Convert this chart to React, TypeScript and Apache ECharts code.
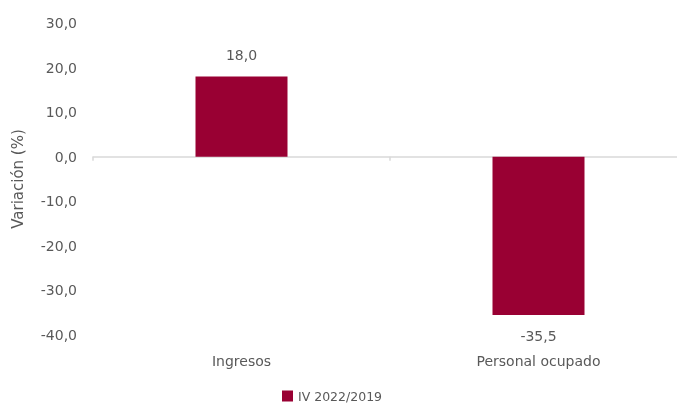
import React, { useEffect, useRef } from "react";
import * as echarts from "echarts";

const categories = ["Ingresos", "Personal ocupado"];
const seriesName = "IV 2022/2019";
const values = [18.0, -35.5];
const yTicks = { min: -40, max: 30, interval: 10 };

const fmt = (v: number) => v.toFixed(1).replace(".", ",");
const FONT = "'DejaVu Sans', sans-serif";
const TXT = "#595959";

export default function App() {
  const ref = useRef<HTMLDivElement>(null);
  useEffect(() => {
    const chart = echarts.init(ref.current!, null, { renderer: "svg" });
    chart.setOption({
      animation: false,
      textStyle: { fontFamily: FONT },
      grid: { left: 93, width: 594, top: 23, height: 312, outerBoundsMode: "none", containLabel: false },
      legend: {
        left: 277,
        top: 384,
        itemWidth: 11,
        itemHeight: 11,
        itemGap: 6,
        icon: "rect",
        textStyle: { color: TXT, fontSize: 12.5, fontFamily: FONT, lineHeight: 14 },
        data: [seriesName],
      },
      xAxis: [
        {
          type: "category",
          data: categories,
          position: "bottom",
          axisLine: { show: false, onZero: false },
          axisTick: { show: false },
          axisLabel: { color: TXT, fontSize: 14, margin: 19, fontFamily: FONT },
        },
        {
          type: "category",
          data: categories,
          position: "bottom",
          axisLine: { show: true, onZero: true, lineStyle: { color: "#d9d9d9", width: 1.5 } },
          axisTick: { show: true, length: 4, lineStyle: { color: "#d9d9d9", width: 1.5 } },
          axisLabel: { show: false },
        },
      ],
      yAxis: {
        type: "value",
        min: yTicks.min,
        max: yTicks.max,
        interval: yTicks.interval,
        name: "Variación (%)",
        nameLocation: "middle",
        nameGap: 68,
        nameTextStyle: { color: TXT, fontSize: 15, fontFamily: FONT },
        axisLine: { show: false },
        axisTick: { show: false },
        splitLine: { show: false },
        axisLabel: { color: TXT, fontSize: 14, margin: 16, formatter: (v: number) => fmt(v), fontFamily: FONT },
      },
      series: [
        {
          name: seriesName,
          type: "bar",
          xAxisIndex: 0,
          barWidth: 92,
          itemStyle: { color: "#990033" },
          label: {
            show: true,
            color: TXT,
            fontSize: 14,
            fontFamily: FONT,
            formatter: (p: any) => fmt(p.value),
          },
          data: values.map((v) => ({
            value: v,
            label: { position: v >= 0 ? "top" : "bottom", distance: v >= 0 ? 14 : 14 },
          })),
        },
      ],
    });
    return () => chart.dispose();
  }, []);
  return <div ref={ref} style={{ position: "fixed", left: 0, top: 0, width: 677, height: 403 }} />;
}
